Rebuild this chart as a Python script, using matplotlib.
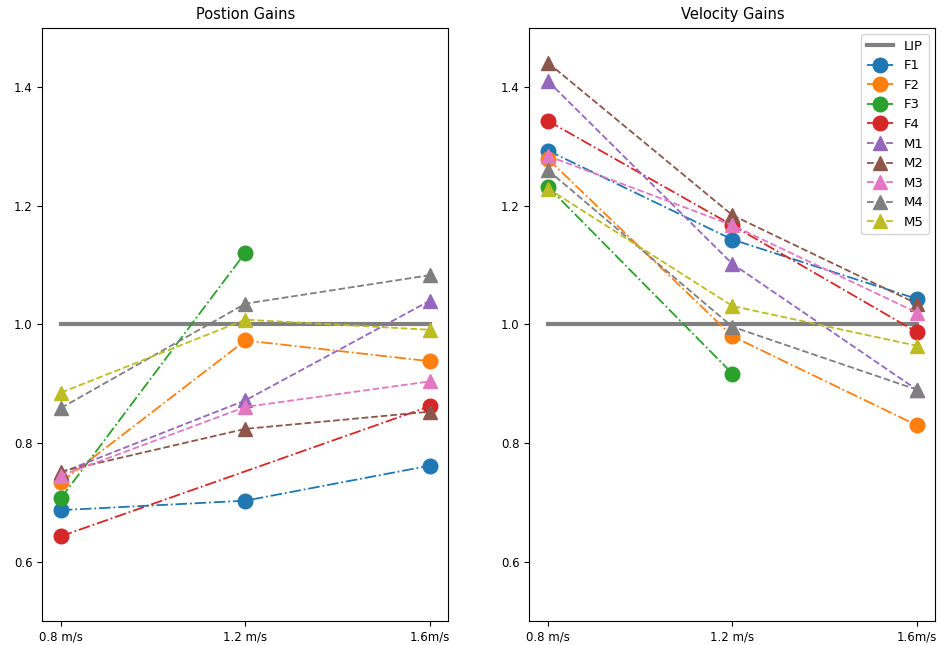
import numpy as np
import matplotlib.pyplot as plt

speeds = [0.8, 1.2, 1.6]
tick_labels = ['0.8 m/s', '1.2 m/s', '1.6m/s']

subjects = ['F1', 'F2', 'F3', 'F4', 'M1', 'M2', 'M3', 'M4', 'M5']

# position gains (None = no measurement)
pos_gains = {
    'F1': [0.687, 0.703, 0.762],
    'F2': [0.734, 0.973, 0.938],
    'F3': [0.707, 1.121, None],
    'F4': [0.643, None, 0.862],
    'M1': [0.750, 0.872, 1.040],
    'M2': [0.752, 0.824, 0.853],
    'M3': [0.745, 0.861, 0.904],
    'M4': [0.859, 1.035, 1.083],
    'M5': [0.885, 1.008, 0.991],
}

# velocity gains
vel_gains = {
    'F1': [1.293, 1.143, 1.043],
    'F2': [1.279, 0.980, 0.830],
    'F3': [1.232, 0.917, None],
    'F4': [1.343, 1.167, 0.987],
    'M1': [1.410, 1.102, 0.890],
    'M2': [1.441, 1.184, 1.035],
    'M3': [1.284, 1.167, 1.020],
    'M4': [1.260, 0.996, 0.890],
    'M5': [1.229, 1.031, 0.964],
}

lip = [1.0, 1.0, 1.0]

plt.rcParams['font.size'] = 8.5
fig, axes = plt.subplots(1, 2, figsize=(9.42, 6.45), dpi=100)
fig.subplots_adjust(left=0.045, right=0.993, bottom=0.037, top=0.957, wspace=0.2)

for ax, gains, title in zip(axes, [pos_gains, vel_gains], ['Postion Gains', 'Velocity Gains']):
    ax.plot(speeds, lip, color='grey', linewidth=3, label='LIP')
    for i, name in enumerate(subjects):
        pts = [(x, y) for x, y in zip(speeds, gains[name]) if y is not None]
        xs = [p[0] for p in pts]
        ys = [p[1] for p in pts]
        if name.startswith('F'):
            ax.plot(xs, ys, '-.', marker='o', markersize=10.5, linewidth=1.3, color='C%d' % i, label=name)
        else:
            ax.plot(xs, ys, '--', marker='^', markersize=10.5, linewidth=1.3, color='C%d' % i, label=name)
    ax.set_ylim(0.5, 1.5)
    ax.set_xticks(speeds)
    ax.set_xticklabels(tick_labels)
    ax.set_yticks([0.6, 0.8, 1.0, 1.2, 1.4])
    ax.set_title(title, fontsize=10.5)

axes[1].legend(loc='upper right', fontsize=9.5)

plt.savefig('out.png')
